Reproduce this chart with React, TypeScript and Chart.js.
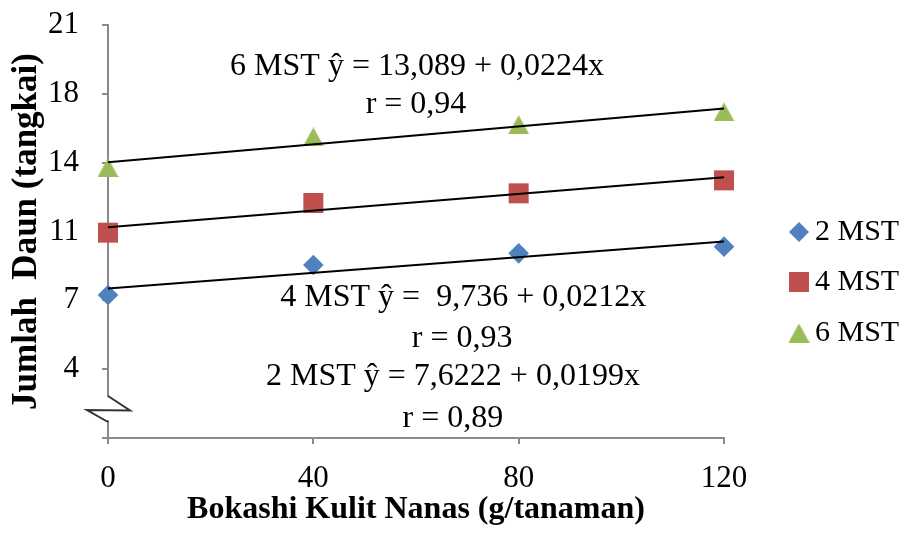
import React, { useEffect, useRef } from 'react';
import { Chart, registerables } from 'chart.js';

Chart.register(...registerables);

// ---- data ----
const xValues = [0, 40, 80, 120];
const mst2 = [7.27, 8.8, 9.39, 9.73];
const mst4 = [10.44, 11.95, 12.44, 13.1];
const mst6 = [13.75, 15.31, 15.93, 16.58];
const seriesNames = ['2 MST', '4 MST', '6 MST'];
const yTickLabels = ['', '4', '7', '11', '14', '18', '21'];
const xTickLabels = ['0', '40', '80', '120'];
const equationTexts = [
  '6 MST ŷ = 13,089 + 0,0224x',
  'r = 0,94',
  '4 MST ŷ =  9,736 + 0,0212x',
  'r = 0,93',
  '2 MST ŷ = 7,6222 + 0,0199x',
  'r = 0,89',
];

// ---- layout / style ----
const FONT = "'Liberation Serif', 'Times New Roman', serif";
const COLORS = ['#4F81BD', '#C0504D', '#9BBB59'];
const AXIS_COLOR = '#8a8a8a';
// annotation anchors in data units [x, y]
const equationAnchors: [number, number][] = [
  [60.2, 18.86],
  [60.0, 16.93],
  [69.2, 7.12],
  [69.0, 5.05],
  [67.2, 3.1],
  [67.2, 0.99],
];

function makeTriangle(color: string, w: number, h: number) {
  const c = document.createElement('canvas');
  c.width = w;
  c.height = h;
  const g = c.getContext('2d')!;
  g.fillStyle = color;
  g.beginPath();
  g.moveTo(0, h);
  g.lineTo(w / 2, 0);
  g.lineTo(w, h);
  g.closePath();
  g.fill();
  return c;
}

function trend(xs: number[], ys: number[]) {
  const n = xs.length;
  const mx = xs.reduce((a, b) => a + b, 0) / n;
  const my = ys.reduce((a, b) => a + b, 0) / n;
  let sxy = 0;
  let sxx = 0;
  for (let i = 0; i < n; i++) {
    sxy += (xs[i] - mx) * (ys[i] - my);
    sxx += (xs[i] - mx) * (xs[i] - mx);
  }
  const b = sxy / sxx;
  const a = my - b * mx;
  const x0 = xs[0];
  const x1 = xs[n - 1];
  return [
    { x: x0, y: a + b * x0 },
    { x: x1, y: a + b * x1 },
  ];
}

export default function App() {
  const ref = useRef<HTMLCanvasElement | null>(null);

  useEffect(() => {
    if (!ref.current) return;
    const tri = makeTriangle(COLORS[2], 21, 19);
    const pts = (ys: number[]) => xValues.map((x, i) => ({ x, y: ys[i] }));

    const overlay = {
      id: 'overlay',
      afterDraw(chart: any) {
        const ctx = chart.ctx as CanvasRenderingContext2D;
        const xs = chart.scales.x;
        const ys = chart.scales.y;
        ctx.save();
        // equations
        ctx.fillStyle = '#000';
        ctx.font = `32px ${FONT}`;
        ctx.textAlign = 'center';
        ctx.textBaseline = 'middle';
        equationTexts.forEach((t, i) => {
          const [dx, dy] = equationAnchors[i];
          ctx.fillText(t, xs.getPixelForValue(dx), ys.getPixelForValue(dy));
        });
        // axis break
        const ax = chart.chartArea.left;
        ctx.fillStyle = '#fff';
        ctx.fillRect(ax - 22, 397, 56, 23);
        ctx.strokeStyle = '#333';
        ctx.lineWidth = 2;
        ctx.beginPath();
        ctx.moveTo(ax, 396);
        ctx.lineTo(ax + 22, 410.5);
        ctx.lineTo(ax - 21, 410);
        ctx.lineTo(ax, 422);
        ctx.stroke();
        // legend
        const lx = chart.chartArea.right + 75;
        const rows = [232, 282, 333];
        ctx.font = `30px ${FONT}`;
        ctx.textAlign = 'left';
        ctx.textBaseline = 'middle';
        rows.forEach((ry, i) => {
          ctx.fillStyle = COLORS[i];
          if (i === 0) {
            ctx.beginPath();
            ctx.moveTo(lx - 10, ry);
            ctx.lineTo(lx, ry - 10);
            ctx.lineTo(lx + 10, ry);
            ctx.lineTo(lx, ry + 10);
            ctx.closePath();
            ctx.fill();
          } else if (i === 1) {
            ctx.fillRect(lx - 10, ry - 10, 20, 20);
          } else {
            ctx.drawImage(tri, lx - tri.width / 2, ry - tri.height / 2);
          }
          ctx.fillStyle = '#000';
          ctx.fillText(seriesNames[i], lx + 16, ry);
        });
        ctx.restore();
      },
    };

    const trendStyle = {
      showLine: true,
      borderColor: '#000',
      borderWidth: 2,
      pointRadius: 0,
      pointHoverRadius: 0,
      fill: false,
      clip: false,
      order: 0,
    };

    const chart = new Chart(ref.current, {
      type: 'scatter',
      data: {
        datasets: [
          { label: 'trend2', data: trend(xValues, mst2), ...trendStyle },
          { label: 'trend4', data: trend(xValues, mst4), ...trendStyle },
          { label: 'trend6', data: trend(xValues, mst6), ...trendStyle },
          {
            label: seriesNames[0],
            data: pts(mst2),
            pointStyle: 'rectRot',
            pointRadius: 10.3,
            backgroundColor: COLORS[0],
            borderWidth: 0,
            pointBorderWidth: 0,
            clip: false,
            order: 1,
          },
          {
            label: seriesNames[1],
            data: pts(mst4),
            pointStyle: 'rect',
            pointRadius: 14.14,
            backgroundColor: COLORS[1],
            borderWidth: 0,
            pointBorderWidth: 0,
            clip: false,
            order: 1,
          },
          {
            label: seriesNames[2],
            data: pts(mst6),
            pointStyle: tri as any,
            pointRadius: 11,
            backgroundColor: COLORS[2],
            borderWidth: 0,
            pointBorderWidth: 0,
            clip: false,
            order: 1,
          },
        ],
      },
      options: {
        responsive: false,
        animation: false,
        events: [],
        layout: { padding: { left: 0, top: 25, right: 182, bottom: 0 } },
        plugins: {
          legend: { display: false },
          tooltip: { enabled: false },
        },
        scales: {
          x: {
            type: 'linear',
            min: 0,
            max: 120,
            afterFit: (s: any) => {
              s.height = 97;
            },
            ticks: {
              stepSize: 40,
              padding: 16,
              color: '#000',
              font: { family: FONT, size: 31 },
              callback: (_v: any, i: number) => xTickLabels[i],
            },
            grid: {
              drawOnChartArea: false,
              drawTicks: true,
              tickLength: 6,
              color: AXIS_COLOR,
              lineWidth: 2,
            },
            border: { color: AXIS_COLOR, width: 2 },
            title: {
              display: true,
              text: 'Bokashi Kulit Nanas (g/tanaman)',
              color: '#000',
              font: { family: FONT, size: 32, weight: 'bold' },
              padding: { top: 0, bottom: 6 },
            },
          },
          y: {
            type: 'linear',
            min: 0,
            max: 21,
            afterFit: (s: any) => {
              s.width = 108;
              s.paddingTop = 0;
              s.paddingBottom = 0;
            },
            ticks: {
              stepSize: 3.5,
              padding: 23,
              color: '#000',
              font: { family: FONT, size: 31 },
              callback: (_v: any, i: number) => yTickLabels[i],
            },
            grid: {
              drawOnChartArea: false,
              drawTicks: true,
              tickLength: 6,
              color: AXIS_COLOR,
              lineWidth: 2,
            },
            border: { color: AXIS_COLOR, width: 2 },
            title: {
              display: true,
              text: 'Jumlah  Daun (tangkai)',
              color: '#000',
              font: { family: FONT, size: 35, weight: 'bold' },
              padding: { top: 6, bottom: 0 },
            },
          },
        },
      },
      plugins: [overlay],
    } as any);

    return () => chart.destroy();
  }, []);

  return (
    <div style={{ position: 'fixed', left: 0, top: 0, width: 906, height: 535, background: '#fff' }}>
      <canvas ref={ref} width={906} height={535} style={{ display: 'block' }} />
    </div>
  );
}
